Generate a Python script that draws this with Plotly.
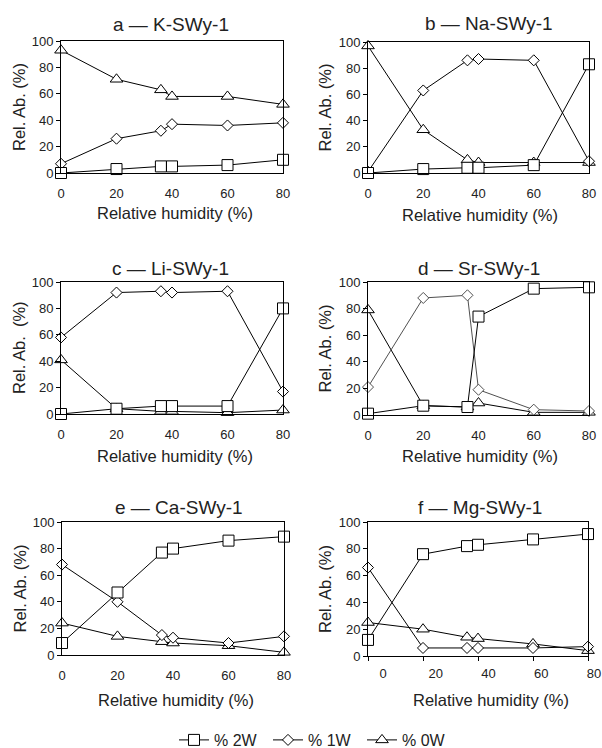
import plotly.graph_objects as go

# Relative humidity steps (%)
rh = [0, 20, 36, 40, 60, 80]

panel_titles = ["a — K-SWy-1", "b — Na-SWy-1", "c — Li-SWy-1",
                "d — Sr-SWy-1", "e — Ca-SWy-1", "f — Mg-SWy-1"]
y_titles = ["Rel. Ab. (%)", "Rel. Ab. (%)", "Rel. Ab.  (%)",
            "Rel. Ab. (%)", "Rel. Ab. (%)", "Rel. Ab. (%)"]
x_title = "Relative humidity (%)"
series_names = ["% 2W", "% 1W", "% 0W"]
x_ticks = [0, 20, 40, 60, 80]
y_ticks = [0, 20, 40, 60, 80, 100]

# Relative abundance (%) of the 2W, 1W and 0W hydration states
k_2w = [0, 3, 5, 5, 6, 10]
k_1w = [7, 26, 32, 37, 36, 38]
k_0w = [93, 71, 63, 58, 58, 52]

na_2w = [0, 3, 4, 4, 6, 83]
na_1w = [1, 63, 86, 87, 86, 9]
na_0w = [97, 33, 10, 8, 8, 8]

li_2w = [0, 4, 6, 6, 6, 80]
li_1w = [58, 92, 93, 92, 93, 17]
li_0w = [41, 4, 2, 2, 1, 3]

sr_2w = [1, 7, 6, 74, 95, 96]
sr_1w = [21, 88, 90, 19, 4, 3]
sr_0w = [79, 7, 6, 9, 2, 2]

ca_2w = [9, 47, 77, 80, 86, 89]
ca_1w = [68, 40, 15, 13, 9, 14]
ca_0w = [24, 14, 10, 9, 7, 2]

mg_2w = [12, 76, 82, 83, 87, 91]
mg_1w = [66, 6, 6, 6, 6, 7]
mg_0w = [25, 20, 14, 13, 9, 4]

panels = [
    (k_2w, k_1w, k_0w), (na_2w, na_1w, na_0w), (li_2w, li_1w, li_0w),
    (sr_2w, sr_1w, sr_0w), (ca_2w, ca_1w, ca_0w), (mg_2w, mg_1w, mg_0w),
]

W, H = 602, 748
FONT = "Liberation Sans, Arial, Helvetica, sans-serif"
TXT = "#222222"

# plot-area boxes in pixels: (left, right, top, bottom)
boxes = [
    (61, 283, 41, 173), (368, 589, 42, 173),
    (61, 283, 282, 414), (368, 589, 282, 415),
    (62, 284, 522, 655), (368, 588, 522, 656),
]
title_pos = [(171, 24), (489, 23), (170, 268), (479, 268), (179, 507), (480, 507)]
xtitle_pos = [(175, 213), (480, 215), (175, 456), (480, 456), (176, 700), (491, 700)]
ytitle_x = [19, 325, 19, 325, 19, 325]

# the Mg panel carries its tick labels on a separate, slightly offset scale
mg_label_span = (383, 594)

symbols = ["square", "diamond", "triangle-up"]
sizes = [11, 8.5, 11]

fig = go.Figure()
annotations = []

tickfont = dict(family=FONT, size=13, color=TXT)

for i, (vals, box) in enumerate(zip(panels, boxes)):
    n = i + 1
    xa = "x" if n == 1 else f"x{n}"
    ya = "y" if n == 1 else f"y{n}"
    l, r, t, b = box
    # 0W drawn first so the 2W squares sit on top
    for j in (2, 1, 0):
        name, ys = series_names[j], vals[j]
        col = "#000000"
        if i == 3 and j == 1:
            col = "#505050"
        fig.add_trace(go.Scatter(
            x=rh, y=ys, xaxis=xa, yaxis=ya, name=name,
            mode="lines+markers", cliponaxis=False,
            line=dict(color=col, width=1),
            marker=dict(symbol=symbols[j], size=sizes[j], color="white",
                        line=dict(color=col, width=1)),
            legendrank=j + 1, showlegend=(i == 0),
        ))

    xkey = "xaxis" if n == 1 else f"xaxis{n}"
    ykey = "yaxis" if n == 1 else f"yaxis{n}"
    is_mg = (i == 5)
    fig.layout[xkey] = dict(
        domain=[l / W, r / W], anchor=ya, range=[0, 80],
        tickvals=x_ticks, showgrid=False, zeroline=False,
        showline=True, linecolor="black", linewidth=1, mirror=True,
        ticks="outside" if is_mg else "", ticklen=4, tickcolor="black",
        showticklabels=not is_mg,
        ticklabelstandoff=8, tickfont=tickfont,
    )
    fig.layout[ykey] = dict(
        domain=[1 - b / H, 1 - t / H], anchor=xa, range=[0, 100],
        tickvals=y_ticks, showgrid=False, zeroline=False,
        showline=True, linecolor="black", linewidth=1, mirror=True,
        ticks="outside", ticklen=4, tickcolor="black",
        tickfont=tickfont,
    )

    tx, ty = title_pos[i]
    annotations.append(dict(text=panel_titles[i], x=tx / W, y=1 - ty / H,
                            xref="paper", yref="paper", showarrow=False,
                            xanchor="center", yanchor="middle",
                            font=dict(family=FONT, size=19, color=TXT)))
    ax_, ay_ = xtitle_pos[i]
    annotations.append(dict(text=x_title, x=ax_ / W, y=1 - ay_ / H,
                            xref="paper", yref="paper", showarrow=False,
                            xanchor="center", yanchor="middle",
                            font=dict(family=FONT, size=16.5, color=TXT)))
    annotations.append(dict(text=y_titles[i], x=ytitle_x[i] / W,
                            y=1 - (t + b) / 2 / H,
                            xref="paper", yref="paper", showarrow=False,
                            textangle=-90, xanchor="center", yanchor="middle",
                            font=dict(family=FONT, size=16.5, color=TXT)))

# label-only axis for the Mg panel (an empty trace keeps it on the page)
fig.add_trace(go.Scatter(x=x_ticks, y=[None] * len(x_ticks),
                         xaxis="x7", yaxis="y6", mode="markers",
                         showlegend=False, hoverinfo="skip"))
fig.layout["xaxis7"] = dict(
    domain=[mg_label_span[0] / W, mg_label_span[1] / W], anchor="y6",
    range=[0, 80], tickvals=x_ticks, showgrid=False, zeroline=False,
    showline=False, ticks="", ticklabelstandoff=8,
    ticklabeloverflow="allow", tickfont=tickfont,
)

fig.update_layout(
    width=W, height=H,
    margin=dict(l=0, r=0, t=0, b=0, autoexpand=False),
    paper_bgcolor="white", plot_bgcolor="rgba(0,0,0,0)",
    annotations=annotations,
    legend=dict(orientation="h", x=174 / W, xanchor="left",
                y=1 - 740 / H, yanchor="middle",
                font=dict(family=FONT, size=16, color=TXT),
                itemwidth=30, traceorder="normal",
                entrywidth=49, entrywidthmode="pixels",
                bgcolor="rgba(0,0,0,0)"),
)

fig.write_html("out.html")
